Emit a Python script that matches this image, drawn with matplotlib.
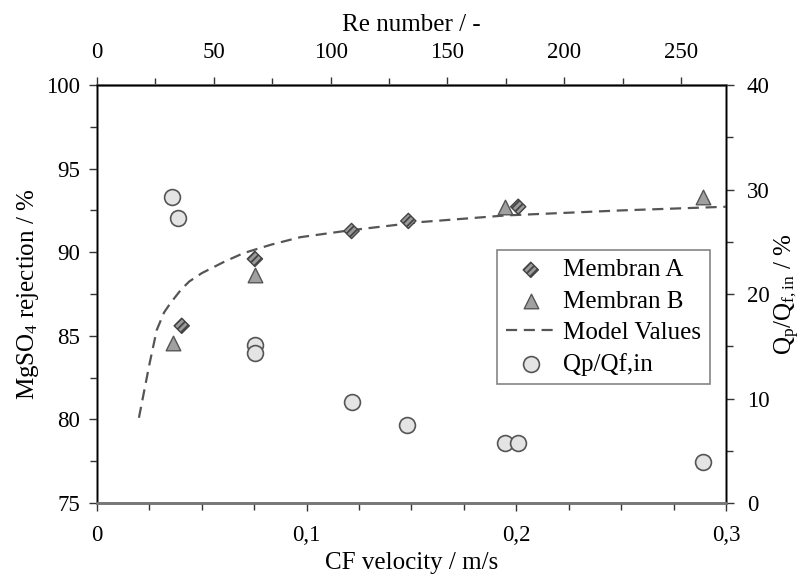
import matplotlib
matplotlib.use('Agg')
import matplotlib.pyplot as plt
from matplotlib.ticker import MultipleLocator, FuncFormatter

plt.rcParams['font.family'] = ['Liberation Serif', 'DejaVu Serif']
plt.rcParams['mathtext.fontset'] = 'custom'
plt.rcParams['mathtext.rm'] = 'Liberation Serif'
plt.rcParams['mathtext.it'] = 'Liberation Serif'
plt.rcParams['hatch.color'] = '#333333'
plt.rcParams['hatch.linewidth'] = 1.3

# Membrane A rejection
velA = [0.0404, 0.0753, 0.1214, 0.1485, 0.2009]
rejA = [85.6, 89.6, 91.27, 91.87, 92.72]

# Membrane B rejection
velB = [0.0361, 0.0753, 0.1946, 0.2891]
rejB = [84.55, 88.64, 92.72, 93.28]

# Model curve
velModel = [0.020, 0.025, 0.0285, 0.032, 0.035, 0.040, 0.044, 0.050, 0.061, 0.070,
            0.083, 0.097, 0.120, 0.154, 0.195, 0.250, 0.300]
rejModel = [80.1, 83.3, 85.35, 86.4, 86.95, 87.75, 88.25, 88.75, 89.45, 89.95,
            90.45, 90.9, 91.3, 91.8, 92.2, 92.5, 92.72]

# Permeate / feed flow ratio (right axis)
velQ = [0.0359, 0.0387, 0.0753, 0.0753, 0.1214, 0.148, 0.1946, 0.2009, 0.2891]
ratioQ = [29.25, 27.3, 15.1, 14.4, 9.7, 7.46, 5.77, 5.77, 3.95]

reMax = 269.3

fig = plt.figure(figsize=(8.09, 5.76), dpi=100)
ax = fig.add_axes([0.1199, 0.1267, 0.7775, 0.7257])
ax2 = ax.twinx()
ax3 = ax.twiny()

lineModel, = ax.plot(velModel, rejModel, linestyle=(0, (5, 3)), color='#555555',
                     linewidth=1.6, label='Model Values', zorder=2)
scA = ax.scatter(velA, rejA, marker='D', s=60, facecolor='#9a9a9a', edgecolor='#444444',
                 hatch='/////', linewidth=1.0, label='Membran A', zorder=3)
scB = ax.scatter(velB, rejB, marker='^', s=110, facecolor='#a0a0a0', edgecolor='#555555',
                 linewidth=1.0, label='Membran B', zorder=3)
scQ = ax2.scatter(velQ, ratioQ, marker='o', s=130, facecolor='#e4e4e4', edgecolor='#555555',
                  linewidth=1.2, label='Qp/Qf,in', zorder=3)

ax.set_xlim(0, 0.3)
ax.set_ylim(75, 100)
ax2.set_ylim(0, 40)
ax3.set_xlim(0, reMax)

ax.xaxis.set_major_locator(MultipleLocator(0.1))
ax.xaxis.set_minor_locator(MultipleLocator(0.025))
ax.xaxis.set_major_formatter(FuncFormatter(lambda v, p: '0' if abs(v) < 1e-9 else ('%.1f' % v).replace('.', ',')))
ax.yaxis.set_major_locator(MultipleLocator(5))
ax.yaxis.set_minor_locator(MultipleLocator(2.5))
ax2.yaxis.set_major_locator(MultipleLocator(10))
ax2.yaxis.set_minor_locator(MultipleLocator(5))
ax3.xaxis.set_major_locator(MultipleLocator(50))
ax3.xaxis.set_minor_locator(MultipleLocator(25))

for a in (ax, ax2, ax3):
    a.tick_params(which='both', direction='out', labelsize=16.5, width=1.0, color='#333333')
    a.tick_params(which='major', length=6)
    a.tick_params(which='minor', length=5)
    for sp in a.spines.values():
        sp.set_linewidth(1.0)
ax.tick_params(axis='x', pad=10)
ax3.tick_params(axis='x', pad=10)
ax.tick_params(axis='y', pad=6)
ax2.tick_params(axis='y', pad=9)

ax.spines['bottom'].set_color('#777777')
ax.spines['bottom'].set_linewidth(2.0)
ax3.spines['top'].set_color('#777777')
ax3.spines['top'].set_linewidth(2.0)

ax.set_xlabel('CF velocity / m/s', fontsize=18, labelpad=4)
ax.set_ylabel('MgSO$_4$ rejection / %', fontsize=18, labelpad=4)
ax2.set_ylabel('Q$_\\mathrm{p}$/Q$_\\mathrm{f,in}$ / %', fontsize=18, labelpad=2)
ax3.set_xlabel('Re number / -', fontsize=18, labelpad=8)

leg = ax.legend(handles=[scA, scB, lineModel, scQ], loc='upper left',
                bbox_to_anchor=(0.636, 0.605), borderaxespad=0, fontsize=18,
                frameon=True, fancybox=False, handlelength=2.0, handletextpad=0.3,
                borderpad=0.35, labelspacing=0.35)
leg.get_frame().set_edgecolor('#666666')
leg.get_frame().set_linewidth(1.2)
leg.set_zorder(10)
ax.set_zorder(ax2.get_zorder() + 1)
ax.patch.set_visible(False)

fig.savefig('out.png', dpi=100)
